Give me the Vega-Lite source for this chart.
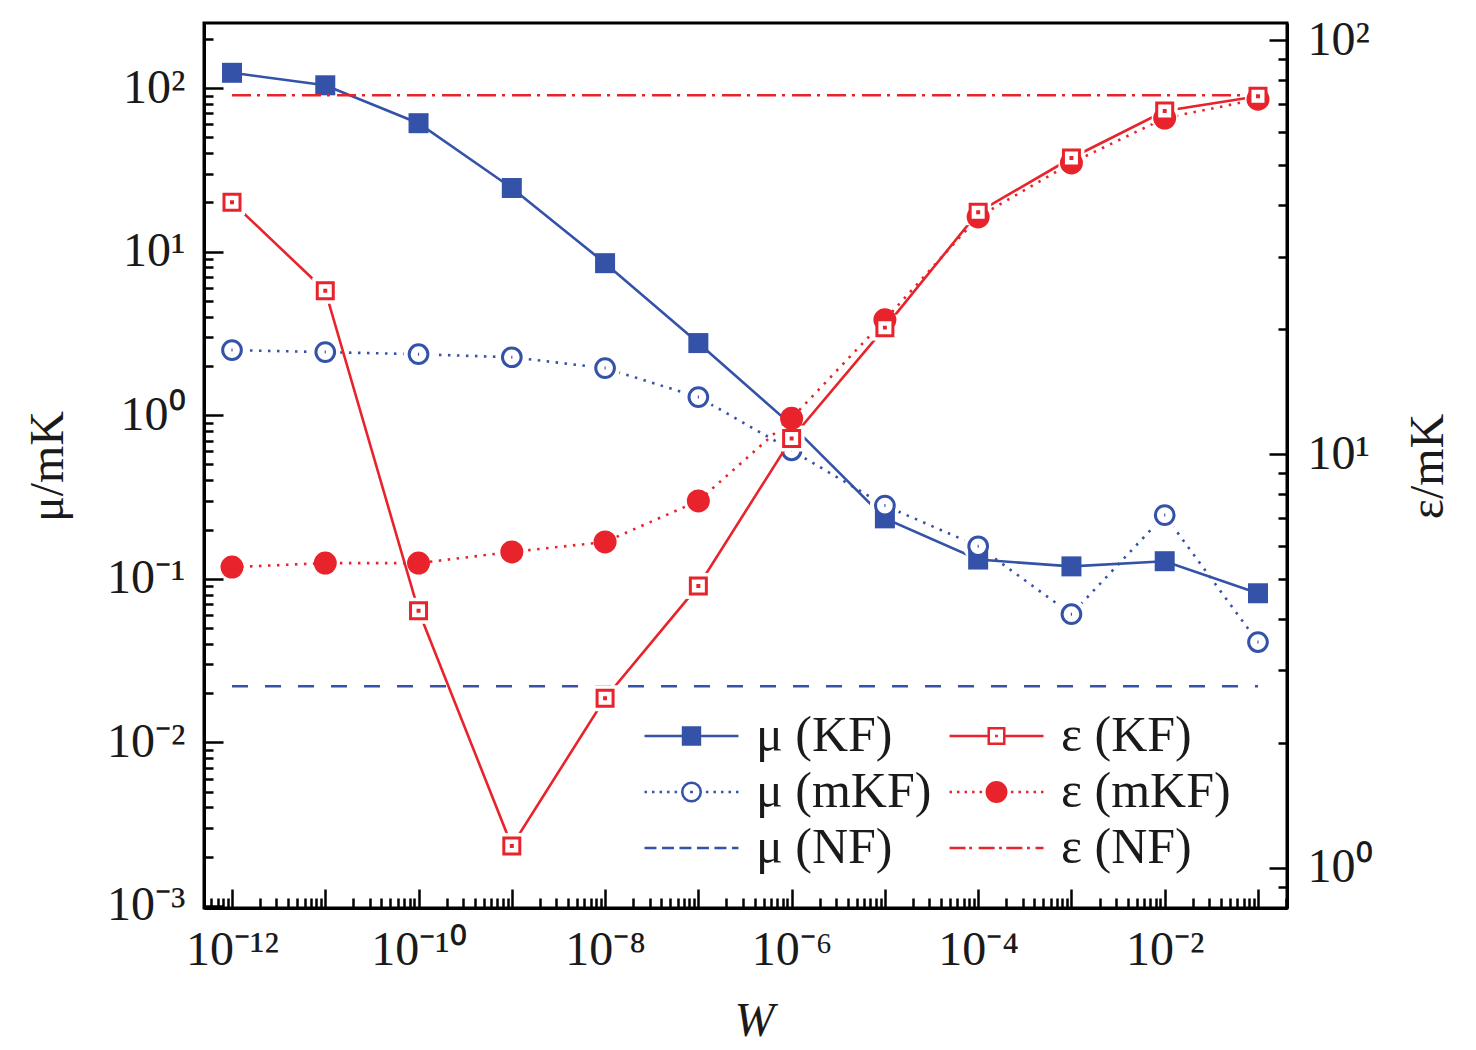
{
  "$schema": "https://vega.github.io/schema/vega-lite/v6.json",
  "description": "Chemical potential and energy versus W for KF, mKF and NF",
  "width": 1083,
  "height": 885,
  "autosize": {"type": "none"},
  "padding": {"left": 204, "top": 23, "right": 189, "bottom": 142},
  "background": "white",
  "datasets": {
    "rows": [
      {"w": 1e-12, "value": 124, "series": "μ (KF)"},
      {"w": 1e-11, "value": 104, "series": "μ (KF)"},
      {"w": 1e-10, "value": 61, "series": "μ (KF)"},
      {"w": 1e-9, "value": 24.5, "series": "μ (KF)"},
      {"w": 1e-8, "value": 8.5, "series": "μ (KF)"},
      {"w": 1e-7, "value": 2.76, "series": "μ (KF)"},
      {"w": 1e-6, "value": 0.87, "series": "μ (KF)"},
      {"w": 1e-5, "value": 0.234, "series": "μ (KF)"},
      {"w": 1e-4, "value": 0.131, "series": "μ (KF)"},
      {"w": 1e-3, "value": 0.119, "series": "μ (KF)"},
      {"w": 1e-2, "value": 0.128, "series": "μ (KF)"},
      {"w": 1e-1, "value": 0.0815, "series": "μ (KF)"},
      {"w": 1e-12, "value": 2.5, "series": "μ (mKF)"},
      {"w": 1e-11, "value": 2.43, "series": "μ (mKF)"},
      {"w": 1e-10, "value": 2.36, "series": "μ (mKF)"},
      {"w": 1e-9, "value": 2.26, "series": "μ (mKF)"},
      {"w": 1e-8, "value": 1.94, "series": "μ (mKF)"},
      {"w": 1e-7, "value": 1.29, "series": "μ (mKF)"},
      {"w": 1e-6, "value": 0.61, "series": "μ (mKF)"},
      {"w": 1e-5, "value": 0.28, "series": "μ (mKF)"},
      {"w": 1e-4, "value": 0.158, "series": "μ (mKF)"},
      {"w": 1e-3, "value": 0.0607, "series": "μ (mKF)"},
      {"w": 1e-2, "value": 0.245, "series": "μ (mKF)"},
      {"w": 1e-1, "value": 0.041, "series": "μ (mKF)"},
      {"w": 1e-12, "value": 0.022, "series": "μ (NF)"},
      {"w": 1e-1, "value": 0.022, "series": "μ (NF)"},
      {"w": 1e-12, "value": 40.6, "series": "ε (KF)"},
      {"w": 1e-11, "value": 24.8, "series": "ε (KF)"},
      {"w": 1e-10, "value": 4.18, "series": "ε (KF)"},
      {"w": 1e-9, "value": 1.13, "series": "ε (KF)"},
      {"w": 1e-8, "value": 2.57, "series": "ε (KF)"},
      {"w": 1e-7, "value": 4.8, "series": "ε (KF)"},
      {"w": 1e-6, "value": 10.9, "series": "ε (KF)"},
      {"w": 1e-5, "value": 20.2, "series": "ε (KF)"},
      {"w": 1e-4, "value": 38.4, "series": "ε (KF)"},
      {"w": 1e-3, "value": 51.9, "series": "ε (KF)"},
      {"w": 1e-2, "value": 67.4, "series": "ε (KF)"},
      {"w": 1e-1, "value": 73.2, "series": "ε (KF)"},
      {"w": 1e-12, "value": 5.33, "series": "ε (mKF)"},
      {"w": 1e-11, "value": 5.45, "series": "ε (mKF)"},
      {"w": 1e-10, "value": 5.45, "series": "ε (mKF)"},
      {"w": 1e-9, "value": 5.8, "series": "ε (mKF)"},
      {"w": 1e-8, "value": 6.13, "series": "ε (mKF)"},
      {"w": 1e-7, "value": 7.7, "series": "ε (mKF)"},
      {"w": 1e-6, "value": 12.2, "series": "ε (mKF)"},
      {"w": 1e-5, "value": 21.1, "series": "ε (mKF)"},
      {"w": 1e-4, "value": 37.4, "series": "ε (mKF)"},
      {"w": 1e-3, "value": 50.5, "series": "ε (mKF)"},
      {"w": 1e-2, "value": 64.8, "series": "ε (mKF)"},
      {"w": 1e-1, "value": 72, "series": "ε (mKF)"},
      {"w": 1e-12, "value": 73.6, "series": "ε (NF)"},
      {"w": 1e-1, "value": 73.6, "series": "ε (NF)"}
    ]
  },
  "data": {"name": "rows"},
  "encoding": {
    "x": {
      "field": "w",
      "type": "quantitative",
      "scale": {"type": "log", "domain": [5.01e-13, 0.2047], "nice": false},
      "axis": {
        "title": "W",
        "titleFontStyle": "italic",
        "titleX": 550,
        "titleY": 127,
        "titleBaseline": "alphabetic",
        "values": [6e-13, 7e-13, 8e-13, 9e-13,
          1e-12, 2e-12, 3e-12, 4e-12, 5e-12, 6e-12, 7e-12, 8e-12, 9e-12,
          1e-11, 2e-11, 3e-11, 4e-11, 5e-11, 6e-11, 7e-11, 8e-11, 9e-11,
          1e-10, 2e-10, 3e-10, 4e-10, 5e-10, 6e-10, 7e-10, 8e-10, 9e-10,
          1e-9, 2e-9, 3e-9, 4e-9, 5e-9, 6e-9, 7e-9, 8e-9, 9e-9,
          1e-8, 2e-8, 3e-8, 4e-8, 5e-8, 6e-8, 7e-8, 8e-8, 9e-8,
          1e-7, 2e-7, 3e-7, 4e-7, 5e-7, 6e-7, 7e-7, 8e-7, 9e-7,
          1e-6, 2e-6, 3e-6, 4e-6, 5e-6, 6e-6, 7e-6, 8e-6, 9e-6,
          1e-5, 2e-5, 3e-5, 4e-5, 5e-5, 6e-5, 7e-5, 8e-5, 9e-5,
          1e-4, 2e-4, 3e-4, 4e-4, 5e-4, 6e-4, 7e-4, 8e-4, 9e-4,
          1e-3, 2e-3, 3e-3, 4e-3, 5e-3, 6e-3, 7e-3, 8e-3, 9e-3,
          1e-2, 2e-2, 3e-2, 4e-2, 5e-2, 6e-2, 7e-2, 8e-2, 9e-2,
          1e-1, 2e-1],
        "tickSize": {"condition": {"test": "abs(log(datum.value)/LN10 - round(log(datum.value)/LN10)) < 0.01", "value": -19}, "value": -10},
        "labelPadding": 37,
        "labelBaseline": "top",
        "labelExpr": "abs(log(datum.value)/LN10 - round(log(datum.value)/LN10)) < 0.01 && abs(round(log(datum.value)/LN10)) % 2 == 0 ? '10⁻' + (abs(round(log(datum.value)/LN10)) >= 10 ? '¹' : '') + substring('⁰¹²³⁴⁵⁶⁷⁸⁹', abs(round(log(datum.value)/LN10)) % 10, abs(round(log(datum.value)/LN10)) % 10 + 1) : ''"
      }
    }
  },
  "layer": [
    {
      "transform": [{"filter": "indexof(datum.series, 'μ') == 0"}],
      "encoding": {
        "y": {
          "field": "value",
          "type": "quantitative",
          "scale": {"type": "log", "domain": [0.00097, 250], "nice": false},
          "axis": {
            "orient": "left",
            "title": "μ/mK",
            "titleAngle": -90,
            "titleX": -142,
            "titleY": 443,
            "titleBaseline": "alphabetic",
            "values": [0.001, 0.002, 0.003, 0.004, 0.005, 0.006, 0.007, 0.008, 0.009,
              0.01, 0.02, 0.03, 0.04, 0.05, 0.06, 0.07, 0.08, 0.09,
              0.1, 0.2, 0.3, 0.4, 0.5, 0.6, 0.7, 0.8, 0.9,
              1, 2, 3, 4, 5, 6, 7, 8, 9,
              10, 20, 30, 40, 50, 60, 70, 80, 90,
              100, 200],
            "tickSize": {"condition": {"test": "abs(log(datum.value)/LN10 - round(log(datum.value)/LN10)) < 0.01", "value": -19}, "value": -9},
            "labelPadding": 38,
            "labelExpr": "abs(log(datum.value)/LN10 - round(log(datum.value)/LN10)) < 0.01 ? '10' + (round(log(datum.value)/LN10) < 0 ? '⁻' : '') + substring('⁰¹²³⁴⁵⁶⁷⁸⁹', abs(round(log(datum.value)/LN10)), abs(round(log(datum.value)/LN10)) + 1) : ''"
          }
        }
      },
      "layer": [
        {
          "transform": [{"filter": "datum.series == 'μ (KF)'"}],
          "mark": {"type": "line", "color": "#3352a8", "strokeWidth": 2.6}
        },
        {
          "transform": [{"filter": "datum.series == 'μ (mKF)'"}],
          "mark": {"type": "line", "color": "#3352a8", "strokeWidth": 2.6, "strokeDash": [2.5, 6.5]}
        },
        {
          "transform": [{"filter": "datum.series == 'μ (NF)'"}],
          "mark": {"type": "line", "color": "#3352a8", "strokeWidth": 2.6, "strokeDash": [16, 17]}
        },
        {
          "transform": [{"filter": "datum.series == 'μ (mKF)'"}],
          "mark": {"type": "point", "shape": "circle", "filled": true, "color": "white", "opacity": 1, "size": 900, "strokeWidth": 0}
        },
        {
          "transform": [{"filter": "datum.series == 'μ (KF)'"}],
          "mark": {"type": "point", "shape": "square", "filled": true, "color": "#3352a8", "opacity": 1, "size": 400, "strokeWidth": 0}
        },
        {
          "transform": [{"filter": "datum.series == 'μ (mKF)'"}],
          "mark": {"type": "point", "shape": "M1,0A1,1,0,1,1,-1,0A1,1,0,1,1,1,0ZM-0.06,0H0.06", "filled": true, "fill": "white", "stroke": "#3352a8", "strokeWidth": 3, "opacity": 1, "size": 350}
        },
        {
          "transform": [{"filter": "datum.series == 'μ (KF)'"}],
          "mark": {"type": "point", "filled": false, "opacity": 0},
          "encoding": {
            "shape": {
              "field": "series",
              "type": "nominal",
              "scale": {
                "domain": ["μ (KF)", "μ (mKF)", "μ (NF)", "ε (KF)", "ε (mKF)", "ε (NF)"],
                "range": [
                  "M-1,0H1M-0.18,-0.18H0.18V0.18H-0.18ZM-0.18,-0.135H0.18M-0.18,-0.09H0.18M-0.18,-0.045H0.18M-0.18,0.045H0.18M-0.18,0.09H0.18M-0.18,0.135H0.18",
                  "M-1,0H-0.947M-0.84,0H-0.787M-0.68,0H-0.627M-0.52,0H-0.467M-0.36,0H-0.307M0.307,0H0.36M0.467,0H0.52M0.627,0H0.68M0.787,0H0.84M0.947,0H1M0.197,0A0.197,0.197,0,1,1,-0.197,0A0.197,0.197,0,1,1,0.197,0ZM-0.03,0H0.03",
                  "M-1,0H-0.745M-0.628,0H-0.373M-0.256,0H-0.001M0.116,0H0.371M0.488,0H0.743M0.86,0H1",
                  "M-1,0H-0.165M0.165,0H1M-0.165,-0.165H0.165V0.165H-0.165ZM-0.03,0H0.03",
                  "M-1,0H-0.947M-0.84,0H-0.787M-0.68,0H-0.627M-0.52,0H-0.467M-0.36,0H-0.307M0.307,0H0.36M0.467,0H0.52M0.627,0H0.68M0.787,0H0.84M0.947,0H1M0.207,0A0.207,0.207,0,1,1,-0.207,0A0.207,0.207,0,1,1,0.207,0ZM0.165,0A0.165,0.165,0,1,1,-0.165,0A0.165,0.165,0,1,1,0.165,0ZM0.123,0A0.123,0.123,0,1,1,-0.123,0A0.123,0.123,0,1,1,0.123,0ZM0.081,0A0.081,0.081,0,1,1,-0.081,0A0.081,0.081,0,1,1,0.081,0ZM0.039,0A0.039,0.039,0,1,1,-0.039,0A0.039,0.039,0,1,1,0.039,0ZM-0.02,0H0.02",
                  "M-1,0H-0.66M-0.58,0H-0.52M-0.38,0H-0.04M0.055,0H0.115M0.21,0H0.55M0.65,0H0.71M0.83,0H1"
                ]
              },
              "legend": {
                "title": null,
                "orient": "none",
                "legendX": 439,
                "legendY": 685,
                "columns": 2,
                "padding": 0,
                "clipHeight": 56,
                "symbolSize": 8836,
                "symbolStrokeWidth": 2.5,
                "symbolFillColor": "transparent",
                "labelFont": "Liberation Serif",
                "labelFontSize": 50,
                "labelColor": "#1a1a1a",
                "labelOffset": 16,
                "labelLimit": 500,
                "columnPadding": 16,
                "rowPadding": 0
              }
            },
            "stroke": {
              "field": "series",
              "type": "nominal",
              "scale": {
                "domain": ["μ (KF)", "μ (mKF)", "μ (NF)", "ε (KF)", "ε (mKF)", "ε (NF)"],
                "range": ["#3352a8", "#3352a8", "#3352a8", "#e8232b", "#e8232b", "#e8232b"]
              }
            }
          }
        }
      ]
    },
    {
      "transform": [{"filter": "indexof(datum.series, 'ε') == 0"}],
      "encoding": {
        "y": {
          "field": "value",
          "type": "quantitative",
          "scale": {"type": "log", "domain": [0.8, 110], "nice": false},
          "axis": {
            "orient": "right",
            "title": "ε/mK",
            "titleAngle": -90,
            "titleX": 155,
            "titleY": 443,
            "titleBaseline": "alphabetic",
            "values": [0.9, 1, 2, 3, 4, 5, 6, 7, 8, 9, 10, 20, 30, 40, 50, 60, 70, 80, 90, 100],
            "tickSize": {"condition": {"test": "abs(log(datum.value)/LN10 - round(log(datum.value)/LN10)) < 0.01", "value": -18}, "value": -9},
            "labelPadding": 38,
            "labelExpr": "abs(log(datum.value)/LN10 - round(log(datum.value)/LN10)) < 0.01 ? '10' + substring('⁰¹²³⁴⁵⁶⁷⁸⁹', abs(round(log(datum.value)/LN10)), abs(round(log(datum.value)/LN10)) + 1) : ''"
          }
        }
      },
      "layer": [
        {
          "transform": [{"filter": "datum.series == 'ε (KF)'"}],
          "mark": {"type": "line", "color": "#e8232b", "strokeWidth": 2.6}
        },
        {
          "transform": [{"filter": "datum.series == 'ε (mKF)'"}],
          "mark": {"type": "line", "color": "#e8232b", "strokeWidth": 2.6, "strokeDash": [2.5, 6.5]}
        },
        {
          "transform": [{"filter": "datum.series == 'ε (NF)'"}],
          "mark": {"type": "line", "color": "#e8232b", "strokeWidth": 2.6, "strokeDash": [19, 6, 3, 7]}
        },
        {
          "transform": [{"filter": "datum.series == 'ε (KF)'"}],
          "mark": {"type": "point", "shape": "square", "filled": true, "color": "white", "opacity": 1, "size": 676, "strokeWidth": 0}
        },
        {
          "transform": [{"filter": "datum.series == 'ε (mKF)'"}],
          "mark": {"type": "point", "shape": "circle", "filled": true, "color": "#e8232b", "opacity": 1, "size": 529, "strokeWidth": 0}
        },
        {
          "transform": [{"filter": "datum.series == 'ε (KF)'"}],
          "mark": {"type": "point", "shape": "M-1,-1H1V1H-1ZM-0.06,-0.06H0.06V0.06H-0.06Z", "filled": true, "fill": "white", "stroke": "#e8232b", "strokeWidth": 3, "opacity": 1, "size": 256}
        }
      ]
    }
  ],
  "resolve": {"scale": {"y": "independent"}},
  "config": {
    "font": "Liberation Serif",
    "view": {"stroke": "black", "strokeWidth": 3},
    "axis": {
      "grid": false,
      "domainColor": "black",
      "domainWidth": 3,
      "tickColor": "black",
      "tickWidth": 2.5,
      "labelFont": "Liberation Serif",
      "labelFontSize": 48,
      "labelColor": "#1a1a1a",
      "labelOverlap": false,
      "labelFlush": false,
      "titleFont": "Liberation Serif",
      "titleFontSize": 48,
      "titleFontWeight": "normal",
      "titleColor": "#1a1a1a"
    }
  }
}
